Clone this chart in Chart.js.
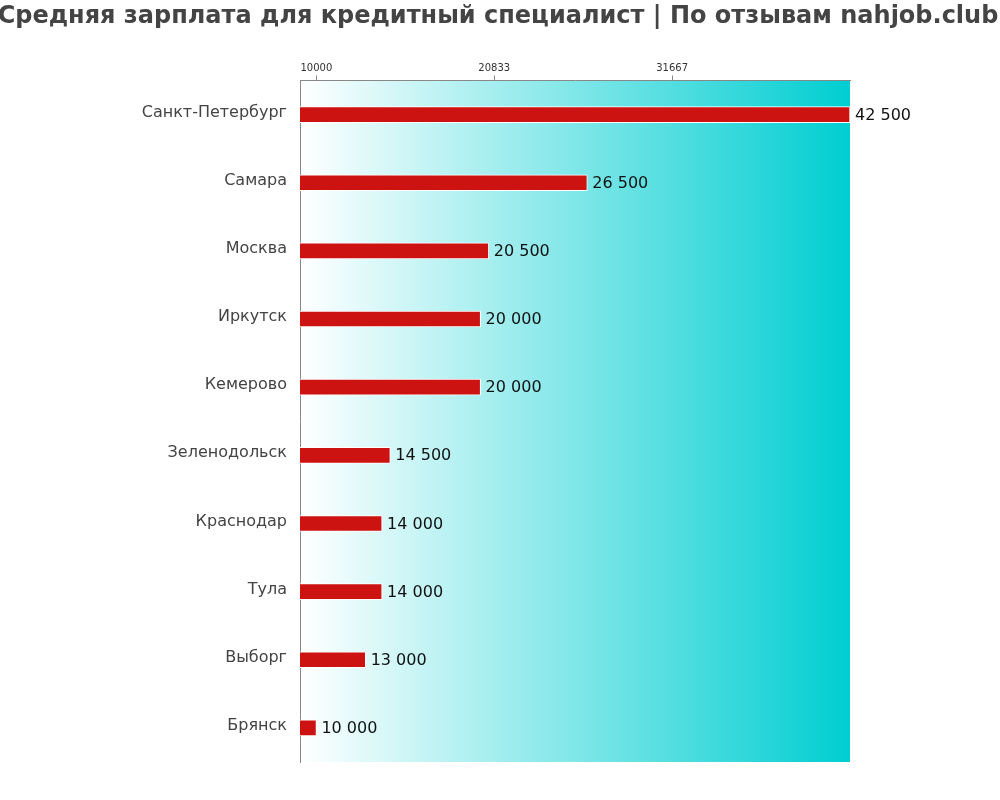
<!DOCTYPE html>
<html>
<head>
<meta charset="utf-8">
<script src="https://cdn.jsdelivr.net/npm/chart.js@4/dist/chart.umd.min.js"></script>
<style>
  html, body { margin: 0; padding: 0; background: #ffffff; }
  #wrap { width: 1000px; height: 800px; }
</style>
</head>
<body>
<div id="wrap"><canvas id="c" width="1000" height="800"></canvas></div>
<script>
const titleText = 'Средняя зарплата для кредитный специалист | По отзывам nahjob.club';
const cities = ['Санкт-Петербург', 'Самара', 'Москва', 'Иркутск', 'Кемерово', 'Зеленодольск', 'Краснодар', 'Тула', 'Выборг', 'Брянск'];
const salaries = [42500, 26500, 20500, 20000, 20000, 14500, 14000, 14000, 13000, 10000];
const tickValues = [10000, 20833.33, 31666.67];
const axisMin = 9000;
const axisMax = 42500;
const FONT = "'DejaVu Sans'";

function fmt(v) {
  return String(Math.round(v)).replace(/\B(?=(\d{3})+(?!\d))/g, ' ');
}

const bgPlugin = {
  id: 'bgGradient',
  beforeDraw(chart) {
    const { ctx, chartArea: a } = chart;
    const g = ctx.createLinearGradient(a.left, 0, a.right, 0);
    g.addColorStop(0, '#ffffff');
    g.addColorStop(1, '#00CED1');
    ctx.save();
    ctx.fillStyle = g;
    ctx.fillRect(a.left, a.top, a.right - a.left, a.bottom - a.top);
    ctx.restore();
  }
};

const titlePlugin = {
  id: 'wideTitle',
  afterDraw(chart, args, opts) {
    const { ctx } = chart;
    ctx.save();
    ctx.font = 'bold 24px ' + FONT;
    ctx.fillStyle = '#444444';
    ctx.textAlign = 'center';
    ctx.textBaseline = 'middle';
    ctx.fillText(opts.text, chart.width / 2 - 2, 17);
    ctx.restore();
  }
};

const valuePlugin = {
  id: 'valueLabels',
  afterDatasetsDraw(chart) {
    const { ctx } = chart;
    const meta = chart.getDatasetMeta(0);
    ctx.save();
    ctx.font = '16px ' + FONT;
    ctx.fillStyle = '#111111';
    ctx.textAlign = 'left';
    ctx.textBaseline = 'middle';
    meta.data.forEach((bar, i) => {
      ctx.fillText(fmt(salaries[i]), bar.x + 5, bar.y + 1);
    });
    ctx.restore();
  }
};

new Chart(document.getElementById('c'), {
  type: 'bar',
  data: {
    labels: cities,
    datasets: [{
      data: salaries,
      backgroundColor: '#CD1312',
      borderColor: '#ffffff',
      borderWidth: 1,
      barThickness: 16
    }]
  },
  options: {
    indexAxis: 'y',
    responsive: false,
    animation: false,
    layout: { padding: { left: 0, right: 150, top: 30, bottom: 38 } },
    plugins: {
      legend: { display: false },
      tooltip: { enabled: false },
      title: { display: false },
      wideTitle: { text: titleText }
    },
    scales: {
      x: {
        position: 'top',
        min: axisMin,
        max: axisMax,
        afterBuildTicks(scale) {
          scale.ticks = tickValues.map(v => ({ value: v }));
        },
        afterFit(scale) { scale.height = 50.5; },
        ticks: {
          color: '#333333',
          font: { family: FONT, size: 10 },
          padding: 1,
          maxRotation: 0,
          callback: (v) => String(Math.round(v))
        },
        grid: {
          drawOnChartArea: false,
          drawTicks: true,
          tickLength: 5,
          color: '#888888'
        },
        border: { display: true, color: '#888888', width: 1 }
      },
      y: {
        afterFit(scale) { scale.width = 300; },
        ticks: {
          color: '#444444',
          font: { family: FONT, size: 16 },
          padding: 13,
          labelOffset: -2
        },
        grid: { display: false, drawTicks: false },
        border: { display: true, color: '#888888', width: 1 }
      }
    }
  },
  plugins: [bgPlugin, valuePlugin, titlePlugin]
});
</script>
</body>
</html>
